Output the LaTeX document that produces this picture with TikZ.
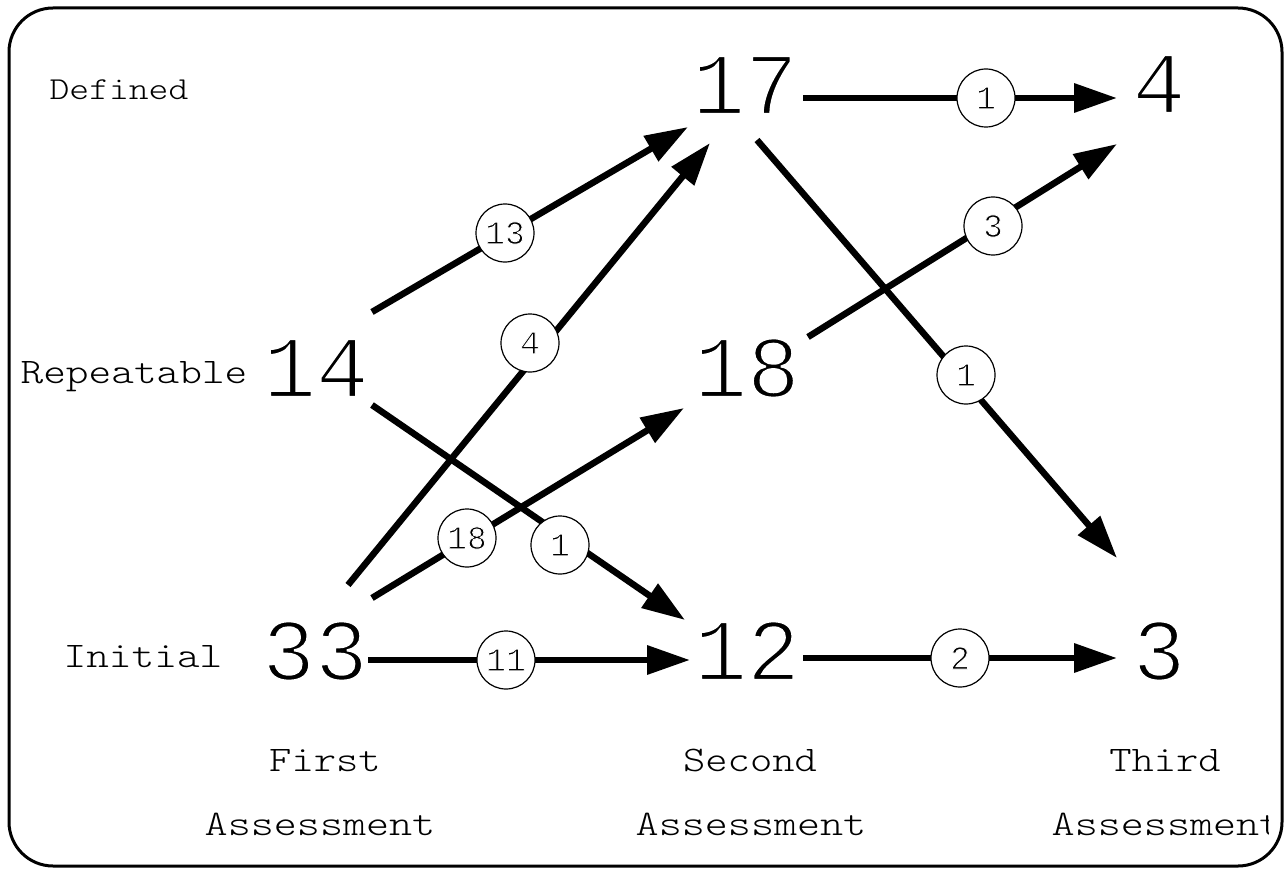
\documentclass[tikz,border=0pt]{standalone}
\usepackage{fontspec}
\newfontfamily\numfont{Liberation Mono}
\newfontfamily\labfont{Latin Modern Mono Light}
\usetikzlibrary{arrows.meta}
\newcommand\thinglyph[2]{\special{pdf:literal direct 2 Tr 1 1 1 RG #1 w}#2\special{pdf:literal direct 0 Tr 0 0 0 RG 0.4 w}}
\begin{document}
\begin{tikzpicture}[x=1pt,y=-1pt,
  big/.style={font=\numfont\fontsize{88}{88}\selectfont, inner sep=0pt, anchor=base},
  lab/.style={font=\labfont\fontsize{36}{36}\selectfont, inner sep=0pt, anchor=base},
  cnt/.style={circle, draw, line width=1.2pt, fill=white, minimum size=58pt, inner sep=0pt, font=\numfont\fontsize{33}{33}\selectfont},
  flow/.style={line width=6.5pt, -{Triangle[length=43pt,width=28pt]}},
  frame/.style={line width=3pt, rounded corners=44pt}
]
\useasboundingbox (0,0) rectangle (1284,869);
\draw[frame] (9,8) rectangle (1282,866);

% row labels
\node[lab, font=\labfont\fontsize{32}{32}\selectfont] (ldef) at (119,100) {\scalebox{1.18}[1]{Defined}};
\node[lab] (lrep) at (134,383) {\scalebox{1.2}[1]{Repeatable}};
\node[lab] (lini) at (143,667) {\scalebox{1.2}[1]{Initial}};
% column labels
\node[lab] (f1) at (325,771) {\scalebox{1.18}[1]{First}};
\node[lab] (a1) at (320,835) {\scalebox{1.22}[1]{Assessment}};
\node[lab] (f2) at (750,771) {\scalebox{1.18}[1]{Second}};
\node[lab] (a2) at (751,835) {\scalebox{1.22}[1]{Assessment}};
\node[lab] (f3) at (1165,771) {\scalebox{1.18}[1]{Third}};
\begin{scope}
\clip (1000,780) rectangle (1268,860);
\node[lab] (a3) at (1167,835) {\scalebox{1.22}[1]{Assessment}};
\end{scope}

% counts
\node[big] (n17) at (745,114) {\thinglyph{2.4}{17}};
\node[big] (n4) at (1159,113) {\thinglyph{2.4}{4}};
\node[big] (n14) at (316,397) {\thinglyph{2.4}{14}};
\node[big] (n18) at (747,397) {\thinglyph{2.4}{18}};
\node[big] (n33) at (315,680) {\thinglyph{2.4}{33}};
\node[big] (n12) at (747,680) {\thinglyph{2.4}{12}};
\node[big] (n3) at (1159,680) {\thinglyph{2.4}{3}};

% connector end points
\coordinate (s1) at (803,98);  \coordinate (t1) at (1117,98);
\coordinate (s2) at (372,312); \coordinate (t2) at (688,127);
\coordinate (s3) at (348,585); \coordinate (t3) at (710,143);
\coordinate (s4) at (372,405); \coordinate (t4) at (685,620);
\coordinate (s5) at (372,598); \coordinate (t5) at (684,408);
\coordinate (s6) at (368,660); \coordinate (t6) at (690,660);
\coordinate (s7) at (808,337); \coordinate (t7) at (1117,144);
\coordinate (s8) at (757,140); \coordinate (t8) at (1117,558);
\coordinate (s9) at (803,658); \coordinate (t9) at (1117,658);

\draw[flow] (s1) -- (t1);
\draw[flow] (s2) -- (t2);
\draw[flow] (s3) -- (t3);
\draw[flow] (s4) -- (t4);
\draw[flow] (s5) -- (t5);
\draw[flow] (s6) -- (t6);
\draw[flow] (s7) -- (t7);
\draw[flow] (s8) -- (t8);
\draw[flow] (s9) -- (t9);

% transition counts
\node[cnt] (c1) at (986,98) {\thinglyph{0.9}{1}};
\node[cnt] (c2) at (505,233) {\thinglyph{0.9}{13}};
\node[cnt] (c3) at (530,343) {\thinglyph{0.9}{4}};
\node[cnt] (c4) at (560,545) {\thinglyph{0.9}{1}};
\node[cnt] (c5) at (467,538) {\thinglyph{0.9}{18}};
\node[cnt] (c6) at (506,660) {\thinglyph{0.9}{11}};
\node[cnt] (c7) at (993,226) {\thinglyph{0.9}{3}};
\node[cnt] (c8) at (966,375) {\thinglyph{0.9}{1}};
\node[cnt] (c9) at (960,658) {\thinglyph{0.9}{2}};
\end{tikzpicture}
\end{document}
